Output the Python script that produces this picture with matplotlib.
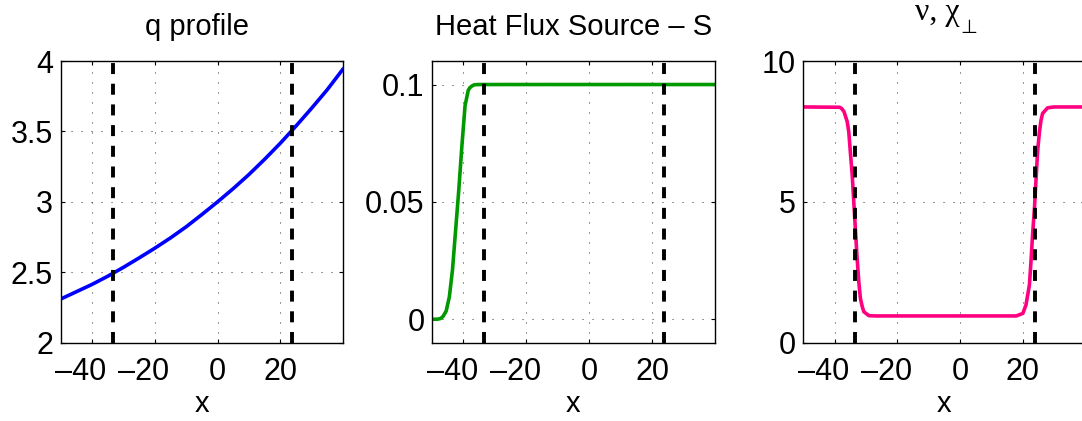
import numpy as np
import matplotlib
matplotlib.use('Agg')
import matplotlib.pyplot as plt
import matplotlib.ticker as tkr
from matplotlib.transforms import ScaledTranslation

plt.rcParams['font.family'] = ['Liberation Sans', 'DejaVu Sans']

# q profile
x_q = [-50, -45, -40, -35, -30, -25, -20, -15, -10, -5, 0, 5, 10, 15, 20, 25, 30, 35, 39.9]
q = [2.31, 2.362, 2.414, 2.472, 2.535, 2.602, 2.671, 2.744, 2.823, 2.910, 3.0, 3.094,
     3.194, 3.302, 3.416, 3.538, 3.665, 3.797, 3.94]

# heat flux source S
x_s = [-50, -48.5, -47.5, -47, -46.5, -45.5, -44.5, -43.5, -42.5, -41.5, -40.5, -39.5,
       -38.5, -38, -37.5, -37, -36.5, -35, 39.9]
s = [0, 0, 0.0002, 0.0006, 0.0012, 0.0035, 0.0095, 0.021, 0.038, 0.055, 0.074, 0.091,
     0.0975, 0.0986, 0.0992, 0.0996, 0.0999, 0.1, 0.1]

# nu, chi_perp
x_nu = [-50, -38.5, -37.8, -37, -36, -35.5, -35, -34.4, -33.9, -33.4, -32.9, -32.3,
        -31.8, -31.2, -30.7, -29.1, -27, 17.9, 20, 21, 22.1, 22.6, 23.1, 23.7, 24.2,
        24.7, 25.3, 25.8, 26.3, 27.9, 30, 39.9]
nu = [8.37, 8.36, 8.32, 8.2, 7.85, 7.49, 6.78, 5.95, 5.0, 4.06, 3.11, 2.17,
      1.58, 1.28, 1.10, 0.96, 0.95, 0.95, 1.04, 1.34, 2.05, 2.88, 3.82, 4.77, 5.78,
      6.78, 7.49, 7.9, 8.14, 8.34, 8.37, 8.37]

x_lim = [-50, 39.9]
x_sep = [-33.4, 23.9]
x_ticks = [-40, -20, 0, 20]

fs = 21
fs_tick = 22


def fmt(v, pos):
    return ('%g' % v).replace('-', '\u2013')


def style(ax, yticks, ylim):
    ax.set_xlim(x_lim)
    ax.set_ylim(ylim)
    ax.set_xticks(x_ticks)
    ax.set_yticks(yticks)
    ax.xaxis.set_major_formatter(tkr.FuncFormatter(fmt))
    ax.yaxis.set_major_formatter(tkr.FuncFormatter(fmt))
    ax.tick_params(direction='in', top=True, right=True, length=3, width=0.8,
                   labelsize=fs_tick)
    ax.tick_params(axis='x', pad=10.5)
    ax.tick_params(axis='y', pad=5.5)
    ax.grid(True, color='0.25', linewidth=0.75, linestyle=(0, (1, 8.6)))
    ax.set_axisbelow(True)
    for sp in ax.spines.values():
        sp.set_linewidth(1.0)
    ax.set_xlabel('x', fontsize=fs, va='baseline')
    ax.xaxis.set_label_coords(0.5, -0.245)
    for xs in x_sep:
        ax.axvline(xs, color='k', linewidth=2.8, linestyle=(0, (2.83, 2.49)))
    # matlab puts the digits on the tick and lets the minus hang left
    shift = ScaledTranslation(-0.11, 0, ax.figure.dpi_scale_trans)
    for val, tick in zip(x_ticks, ax.xaxis.get_major_ticks()):
        if val < 0:
            tick.label1.set_transform(tick.label1.get_transform() + shift)


fig = plt.figure(figsize=(10.82, 4.21), dpi=100)
ax1 = fig.add_axes([0.0561, 0.186, 0.2606, 0.669])
ax2 = fig.add_axes([0.3993, 0.186, 0.2613, 0.669])
ax3 = fig.add_axes([0.7424, 0.186, 0.2606, 0.669])

ax1.plot(x_q, q, color='#0000FF', linewidth=2.6)
style(ax1, [2, 2.5, 3, 3.5, 4], [2, 4])
ax1.set_title('q profile', fontsize=fs, pad=19, x=0.482)

ax2.plot(x_s, s, color='#009900', linewidth=2.6)
style(ax2, [0, 0.05, 0.1], [-0.01, 0.11])
ax2.set_title('Heat Flux Source \u2013 S', fontsize=fs, pad=19)

ax3.plot(x_nu, nu, color='#FF0080', linewidth=2.6)
style(ax3, [0, 5, 10], [0, 10])
ax3.text(0.396, 1.1455, '\u03bd, \u03c7', transform=ax3.transAxes, ha='left',
         va='baseline', fontsize=23, family=['Liberation Serif', 'DejaVu Serif'])
ax3.text(0.556, 1.098, '\u22a5', transform=ax3.transAxes, ha='left',
         va='baseline', fontsize=14, family=['DejaVu Sans'])

fig.savefig('out.png', dpi=100)
